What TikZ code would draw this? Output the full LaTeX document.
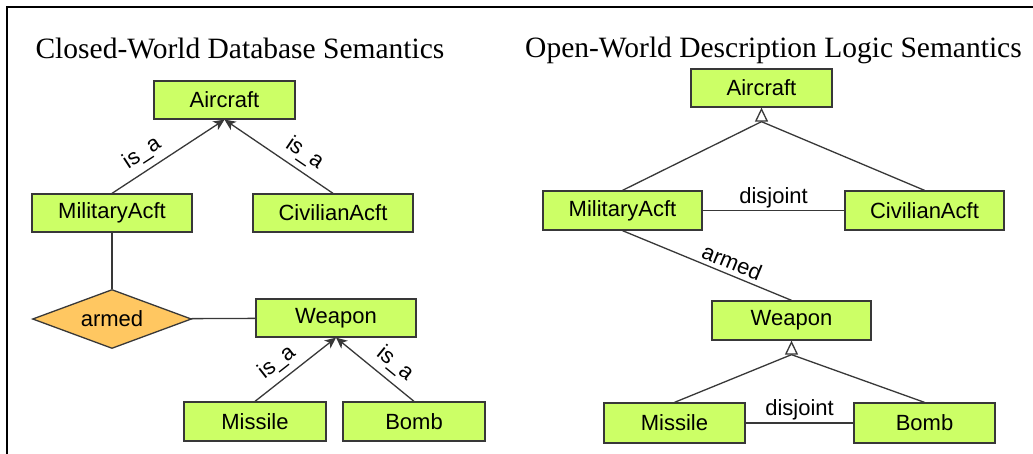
\documentclass[tikz,border=0pt]{standalone}
\usepackage{fontspec}
\setmainfont{Liberation Serif}
\setsansfont{Liberation Sans}
\usetikzlibrary{shapes, arrows.meta, positioning}
\definecolor{conceptfill}{HTML}{CCFF66}
\definecolor{relfill}{HTML}{FFC761}
\definecolor{edgegray}{HTML}{383838}
\tikzstyle{concept} = [draw=edgegray, line width=1.3pt, fill=conceptfill, rectangle, minimum height=38pt, inner sep=0pt, font=\sffamily\fontsize{22}{24}\selectfont]
\tikzstyle{relation} = [draw=edgegray, line width=1.3pt, fill=relfill, diamond, aspect=2.7, minimum width=159pt, minimum height=59pt, inner sep=0pt, font=\sffamily\fontsize{22}{24}\selectfont]
\tikzstyle{heading} = [font=\fontsize{29.5}{32}\selectfont, anchor=base, inner sep=0pt]
\tikzstyle{link} = [draw=edgegray, line width=1.3pt]
\tikzstyle{tag} = [font=\sffamily\fontsize{22}{24}\selectfont, inner sep=2pt]
\newcommand{\isa}{is\_a}

\begin{document}
\begin{tikzpicture}[x=1pt, y=-1pt, >={Stealth[length=11pt, width=10pt, inset=3pt]}]
    \useasboundingbox (0,0) rectangle (1033,453);
    \fill[white] (0,0) rectangle (1033,453);
    \draw[line width=2pt] (7,470) -- (7,7) -- (1050,7);

    % closed world
    \node [heading] (cwtitle) at (240,58) {Closed-World Database Semantics};
    \node [concept, minimum width=141pt] (aircraft) at (224.5,100) {Aircraft};
    \node [concept, minimum width=160pt] (military) at (112,213) {MilitaryAcft};
    \node [concept, minimum width=160pt] (civilian) at (333,213) {CivilianAcft};
    \node [relation] (armed) at (112,319) {armed};
    \node [concept, minimum width=160pt] (weapon) at (336,318) {Weapon};
    \node [concept, minimum width=142pt, minimum height=39pt] (missile) at (255,421.5) {Missile};
    \node [concept, minimum width=142pt, minimum height=39pt] (bomb) at (414,421.5) {Bomb};
    \draw [link,->] (military.north) -- node [tag, sloped, above, pos=0.35, inner sep=6pt] {\isa} (aircraft.south);
    \draw [link,->] (civilian.north) -- node [tag, sloped, above, pos=0.35, inner sep=6pt] {\isa} (aircraft.south);
    \draw [link] (military) -- (armed);
    \draw [link] (armed) -- (weapon);
    \draw [link,->] (missile.north) -- node [tag, sloped, above, pos=0.4, inner sep=6pt] {\isa} (weapon.south);
    \draw [link,->] (bomb.north) -- node [tag, sloped, above, pos=0.38, inner sep=6pt] {\isa} (weapon.south);

    % open world
    \node [heading] (owtitle) at (773.5,57) {Open-World Description Logic Semantics};
    \node [concept, minimum width=141pt] (dlaircraft) at (761.5,88) {Aircraft};
    \node [concept, minimum width=159pt, minimum height=39pt] (dlmilitary) at (622.5,210.5) {MilitaryAcft};
    \node [concept, minimum width=159pt, minimum height=39pt] (dlcivilian) at (924.5,210.5) {CivilianAcft};
    \node [concept, minimum width=159pt, minimum height=39pt] (dlweapon) at (791.5,320.5) {Weapon};
    \node [concept, minimum width=141pt, minimum height=40pt] (dlmissile) at (674.5,423) {Missile};
    \node [concept, minimum width=141pt, minimum height=40pt] (dlbomb) at (924.5,423) {Bomb};
    \coordinate [below=14pt of dlaircraft.south] (acftfork);
    \coordinate [below=14pt of dlweapon.south] (weaponfork);
    \draw [link] (dlmilitary.north) -- (acftfork) -- (dlcivilian.north);
    \draw [link, -{Triangle[length=14pt, width=13pt, fill=white]}] (acftfork) -- (dlaircraft.south);
    \draw [link] (dlmilitary) -- node [tag, above] {disjoint} (dlcivilian);
    \draw [link] (dlmilitary.south) -- node [tag, sloped, above, pos=0.62, inner sep=4pt] {armed} (dlweapon.north);
    \draw [link] (dlmissile.north) -- (weaponfork) -- (dlbomb.north);
    \draw [link, -{Triangle[length=14pt, width=13pt, fill=white]}] (weaponfork) -- (dlweapon.south);
    \draw [link] (dlmissile) -- node [tag, above] {disjoint} (dlbomb);
\end{tikzpicture}
\end{document}
